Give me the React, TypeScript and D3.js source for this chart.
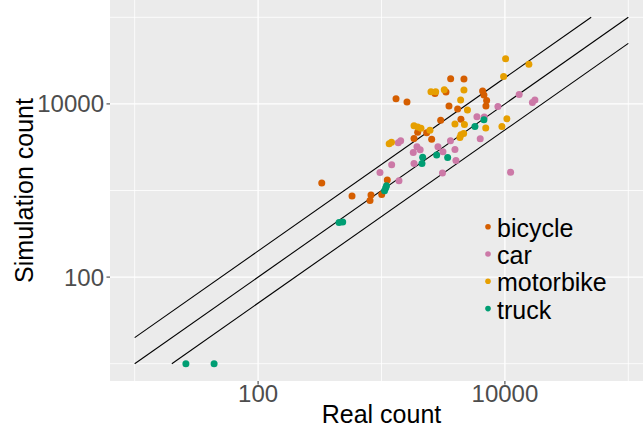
import React from 'react';
import * as d3 from 'd3';

const bicycle: [number, number][] = [
  [328, 1224], [1311, 11460], [1609, 10490], [3634, 19510], [4656, 19350],
  [2712, 13230], [3330, 13690], [6597, 14060], [6761, 12640], [7110, 10980],
  [7018, 9433], [3522, 9433], [4140, 8709], [3016, 6497], [4402, 6672],
  [1964, 4721], [2323, 4634], [1834, 3993], [2550, 3919], [1114, 1326],
  [577, 866], [822, 889], [807, 766], [1004, 899],
];
const car: [number, number][] = [
  [13050, 12880], [17500, 11070], [16700, 10350], [8776, 9307], [5933, 7094],
  [6799, 7037], [6310, 3950], [11120, 1628], [3621, 3764], [2867, 3192],
  [1938, 3192], [2058, 2963], [1809, 2750], [3148, 2794], [3937, 2979],
  [1834, 2051], [4011, 2222], [3119, 1594], [1368, 3570], [1430, 3764],
  [1209, 1977], [972, 1619], [1386, 1298],
];
const motorbike: [number, number][] = [
  [10130, 33220], [15640, 28620], [9761, 20790], [2517, 13800], [2748, 13800],
  [3225, 14550], [4656, 14440], [4378, 11070], [4971, 8525], [1834, 5583],
  [1964, 5422], [2089, 5224], [2470, 4978], [3937, 5842], [4699, 5765],
  [10380, 6725], [9456, 5466], [6991, 5279], [4402, 4394], [4630, 4560],
  [4321, 4100], [1154, 3476], [1205, 3618],
];
const truck: [number, number][] = [
  [6761, 6584], [5716, 5495], [2156, 2427], [2128, 2057], [2799, 2573],
  [3436, 2407], [1098, 1137], [1081, 1069], [1058, 995], [453, 427],
  [485, 434], [26, 10], [44, 10],
];

const categories = ['bicycle', 'car', 'motorbike', 'truck'];
const series = [bicycle, car, motorbike, truck];
const colors = ['#D55E00', '#CC79A7', '#E69F00', '#009E73'];

const ratios = [2, 1, 0.5];
const lineRange = [10, 100000];
const majorTicks = [100, 10000];
const minorTicks = [10, 1000, 100000];

const W = 643;
const H = 432;
const panel = { left: 110, right: 653, top: 0, bottom: 381 };
const font = '"Liberation Sans", Arial, Helvetica, sans-serif';

export default function App() {
  const x = d3
    .scaleLog()
    .domain([10 ** 0.8, 10 ** 5.2])
    .range([panel.left, panel.right]);
  const y = d3
    .scaleLog()
    .domain([10 ** 0.8, 10 ** 5.2])
    .range([panel.bottom, panel.top]);

  const line = d3
    .line<[number, number]>()
    .x((d) => x(d[0]))
    .y((d) => y(d[1]));

  const fmt = (v: number) => String(v);

  return (
    <div style={{ position: 'fixed', left: 0, top: 0 }}>
      <svg width={W} height={H} style={{ display: 'block' }}>
        <defs>
          <clipPath id="panel">
            <rect x={panel.left} y={panel.top} width={panel.right - panel.left} height={panel.bottom - panel.top} />
          </clipPath>
        </defs>
        <rect x={0} y={0} width={W} height={H} fill="white" />
        <rect
          x={panel.left}
          y={panel.top}
          width={panel.right - panel.left}
          height={panel.bottom - panel.top}
          fill="#EBEBEB"
        />
        <g clipPath="url(#panel)">
          {minorTicks.map((t) => (
            <g key={'mn' + t}>
              <line x1={x(t)} x2={x(t)} y1={panel.top} y2={panel.bottom} stroke="white" strokeWidth={0.8} />
              <line x1={panel.left} x2={panel.right} y1={y(t)} y2={y(t)} stroke="white" strokeWidth={0.8} />
            </g>
          ))}
          {majorTicks.map((t) => (
            <g key={'mj' + t}>
              <line x1={x(t)} x2={x(t)} y1={panel.top} y2={panel.bottom} stroke="white" strokeWidth={1.3} />
              <line x1={panel.left} x2={panel.right} y1={y(t)} y2={y(t)} stroke="white" strokeWidth={1.3} />
            </g>
          ))}
          {ratios.map((r) => {
            const x0 = Math.max(lineRange[0], lineRange[0] / r);
            const x1 = Math.min(lineRange[1], lineRange[1] / r);
            const pts: [number, number][] = [
              [x0, x0 * r],
              [x1, x1 * r],
            ];
            return <path key={r} d={line(pts) || ''} fill="none" stroke="black" strokeWidth={1.1} />;
          })}
          {series.map((s, i) =>
            s.map((d, j) => (
              <circle key={i + '-' + j} cx={x(d[0])} cy={y(d[1])} r={3.5} fill={colors[i]} />
            ))
          )}
          {categories.map((c, i) => (
            <g key={c} transform={`translate(488, ${226.7 + i * 27.3})`}>
              <circle cx={0} cy={0} r={2.8} fill={colors[i]} />
              <text x={9} y={1} dominantBaseline="central" fontFamily={font} fontSize={25} fill="black">
                {c}
              </text>
            </g>
          ))}
        </g>
        {/* axes */}
        {majorTicks.map((t) => (
          <g key={'ax' + t}>
            <line x1={x(t)} x2={x(t)} y1={panel.bottom} y2={panel.bottom + 3.5} stroke="#333333" strokeWidth={1} />
            <text x={x(t)} y={402} textAnchor="middle" fontFamily={font} fontSize={24} fill="#4D4D4D">
              {fmt(t)}
            </text>
            <line x1={panel.left - 3.5} x2={panel.left} y1={y(t)} y2={y(t)} stroke="#333333" strokeWidth={1} />
            <text x={104} y={y(t)} textAnchor="end" dominantBaseline="central" fontFamily={font} fontSize={24} fill="#4D4D4D">
              {fmt(t)}
            </text>
          </g>
        ))}
        <text
          x={(panel.left + panel.right) / 2}
          y={423}
          textAnchor="middle"
          fontFamily={font}
          fontSize={25}
          fill="black"
        >
          Real count
        </text>
        <text
          transform={`translate(33, ${(panel.top + panel.bottom) / 2}) rotate(-90)`}
          textAnchor="middle"
          fontFamily={font}
          fontSize={25}
          fill="black"
        >
          Simulation count
        </text>
      </svg>
    </div>
  );
}
